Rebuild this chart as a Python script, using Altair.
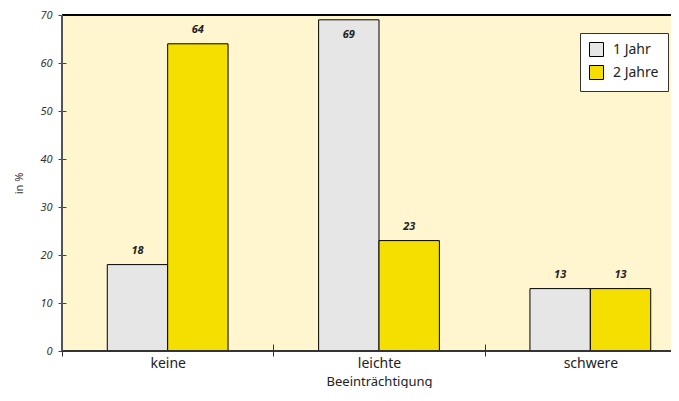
import altair as alt
import pandas as pd

categories = ["keine", "leichte", "schwere"]
series = ["1 Jahr", "2 Jahre"]
values_1jahr = [18, 69, 13]
values_2jahre = [64, 23, 13]

rows = []
for c, v1, v2 in zip(categories, values_1jahr, values_2jahre):
    rows.append({"cat": c, "series": series[0], "value": v1})
    rows.append({"cat": c, "series": series[1], "value": v2})
df = pd.DataFrame(rows)

FONT = "Noto Sans"

x_enc = alt.X(
    "cat:N",
    sort=categories,
    title="Beeinträchtigung",
    scale=alt.Scale(range=[0, 634], paddingInner=0, paddingOuter=0),
    axis=alt.Axis(
        labelAngle=0, tickBand="extent", domain=False, offset=-7, tickSize=12,
        tickColor="#333", labelFontSize=14, labelColor="#222", labelPadding=0,
        titleFontSize=13, titleFontWeight="normal", titleColor="#222",
        titleBaseline="alphabetic", titleY=41,
        labelFont=FONT, titleFont=FONT,
    ),
)
xoff = alt.XOffset("series:N", sort=series,
                   scale=alt.Scale(paddingInner=0, paddingOuter=0.75))

bars = alt.Chart(df).mark_bar(stroke="#000", strokeWidth=1).encode(
    x=x_enc,
    xOffset=xoff,
    y=alt.Y(
        "value:Q",
        title="in %",
        scale=alt.Scale(domain=[0, 70], nice=False),
        axis=alt.Axis(
            values=[0, 10, 20, 30, 40, 50, 60, 70], grid=False, domain=False,
            offset=-4, tickSize=8, tickColor="#444", labelFontSize=11,
            labelFontStyle="italic", labelColor="#333", labelPadding=6,
            titleFontSize=11, titleFontWeight="normal", titleColor="#333",
            titlePadding=15, labelFont=FONT, titleFont=FONT,
        ),
    ),
    fill=alt.Fill(
        "series:N",
        sort=series,
        scale=alt.Scale(domain=series, range=["#E6E6E6", "#F5DF00"]),
        legend=alt.Legend(
            title=None, orient="none", legendX=518, legendY=18,
            symbolType="square", symbolSize=196, symbolStrokeColor="#000",
            symbolStrokeWidth=1, labelFontSize=14, labelColor="#222",
            labelFont=FONT, fillColor="#FFFFFF", strokeColor="#333",
            padding=9, rowPadding=4, labelOffset=9,
        ),
    ),
)

labels = alt.Chart(df).transform_calculate(
    ly="datum.value >= 66 ? datum.value - 3.2 : datum.value + 2.8"
).mark_text(
    fontSize=11, fontWeight="bold", fontStyle="italic", color="#222",
    baseline="middle", font=FONT,
).encode(
    x=alt.X("cat:N", sort=categories),
    xOffset=xoff,
    y=alt.Y("ly:Q"),
    text=alt.Text("value:Q"),
)

frame_top = alt.Chart(df).mark_rule(color="#000", strokeWidth=1).encode(
    y=alt.datum(70)
)
frame_bottom = alt.Chart(df).mark_rule(color="#333", strokeWidth=1).encode(
    y=alt.datum(0)
)
frame_left = alt.Chart(df).mark_rule(color="#555", strokeWidth=1.5).encode(
    x=alt.value(0), y=alt.datum(0), y2=alt.datum(70)
)

chart = (
    alt.layer(bars, labels, frame_top, frame_bottom, frame_left)
    .properties(
        width=609, height=336,
        autosize=alt.AutoSizeParams(type="none"),
        padding={"left": 54, "top": 7, "right": 0, "bottom": 37},
        background="#FFFFFF",
    )
    .configure_view(fill="#FFF5CF", stroke=None)
)

chart.save("out.html", embed_options={"renderer": "svg", "actions": False})
